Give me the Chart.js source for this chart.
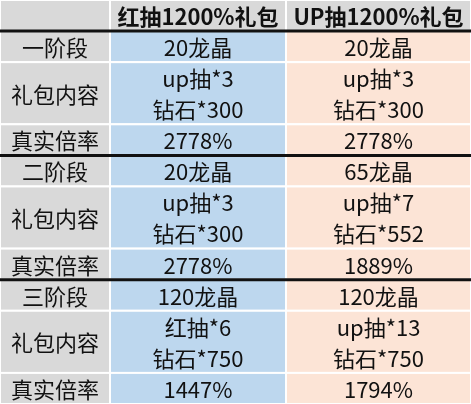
<!DOCTYPE html>
<html><head><meta charset="utf-8">
<script src="https://cdn.jsdelivr.net/npm/chart.js@4"></script>
<style>html,body{margin:0;padding:0;background:#fff}#w{width:471px;height:404px}</style>
</head><body><div id="w"><canvas id="c"></canvas></div>
<script>
const headers = ["", "红抽1200%礼包", "UP抽1200%礼包"];
const rowLabels = ["一阶段","礼包内容","真实倍率","二阶段","礼包内容","真实倍率","三阶段","礼包内容","真实倍率"];
const rowSpans = [1,2,1,1,2,1,1,2,1];
const redPack = ["20龙晶","up抽*3\n钻石*300","2778%","20龙晶","up抽*3\n钻石*300","2778%","120龙晶","红抽*6\n钻石*750","1447%"];
const upPack = ["20龙晶","up抽*3\n钻石*300","2778%","65龙晶","up抽*7\n钻石*552","1889%","120龙晶","up抽*13\n钻石*750","1794%"];
const colWeights = [110,176,185];
const colFills = ["#d9d9d9","#bdd7ee","#fce4d6"];

const colEdges=[0]; colWeights.forEach(w=>colEdges.push(colEdges[colEdges.length-1]+w));
const rowEdges=[0,1]; rowSpans.forEach(s=>rowEdges.push(rowEdges[rowEdges.length-1]+s));
const total=rowEdges[rowEdges.length-1];
const cols=[rowLabels,redPack,upPack];

const tablePlugin={id:'table',afterDraw(ch){
  const ctx=ch.ctx,X=ch.scales.x,Y=ch.scales.y;
  ctx.save();
  const rect=(c,r0,r1)=>{const x0=X.getPixelForValue(colEdges[c]),x1=X.getPixelForValue(colEdges[c+1]);
    const y0=Y.getPixelForValue(r0),y1=Y.getPixelForValue(r1);return [x0,y0,x1,y1];};
  for(let c=0;c<3;c++){
    for(let r=0;r<rowEdges.length-1;r++){
      const [x0,y0,x1,y1]=rect(c,rowEdges[r],rowEdges[r+1]);
      ctx.fillStyle=r===0?"#d9d9d9":colFills[c];
      ctx.fillRect(x0,y0,x1-x0,y1-y0);
      ctx.strokeStyle="#ffffff";ctx.lineWidth=2;ctx.strokeRect(x0,y0,x1-x0,y1-y0);
      const txt=r===0?headers[c]:cols[c][r-1];
      ctx.fillStyle="#111";ctx.textAlign="center";ctx.textBaseline="middle";
      ctx.font=(r===0?"bold 22px":"22px")+" 'Noto Sans CJK SC', sans-serif";
      const lines=txt.split("\n"),cx=(x0+x1)/2,cy=(y0+y1)/2,lh=(y1-y0)/lines.length;
      lines.forEach((l,i)=>ctx.fillText(l,cx,y0+lh*(i+0.5)+1));
    }
  }
  ctx.strokeStyle="#111";ctx.lineWidth=3;
  [1,5,9].forEach(v=>{const y=Y.getPixelForValue(v);ctx.beginPath();ctx.moveTo(X.getPixelForValue(0),y);ctx.lineTo(X.getPixelForValue(colEdges[3]),y);ctx.stroke();});
  ctx.restore();
}};

new Chart(document.getElementById('c'),{
  type:'scatter',
  data:{datasets:[{data:[]}]},
  options:{responsive:true,maintainAspectRatio:false,animation:false,
    layout:{padding:0},
    plugins:{legend:{display:false},tooltip:{enabled:false}},
    scales:{x:{type:'linear',min:0,max:colEdges[3],display:false},
            y:{type:'linear',min:0,max:total,reverse:true,display:false}}},
  plugins:[tablePlugin]
});
</script></body></html>
